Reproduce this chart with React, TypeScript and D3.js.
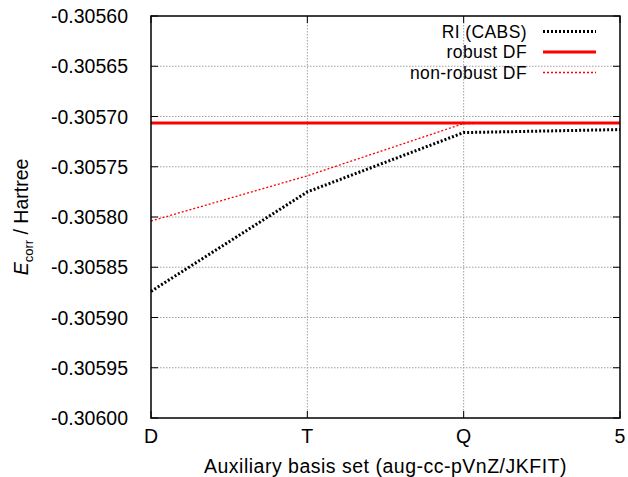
import React from 'react';
import * as d3 from 'd3';

// basis set cardinal numbers on x
const basisLabels = ['D', 'T', 'Q', '5'];
const yTicks = [-0.3056, -0.30565, -0.3057, -0.30575, -0.3058, -0.30585, -0.3059, -0.30595, -0.306];

const riCabs = [-0.305874, -0.305775, -0.305716, -0.305713];
const robustDF = [-0.3057065, -0.3057065, -0.3057065, -0.3057065];
const nonRobustDF = [-0.305804, -0.305759, -0.305707, -0.305706];

const W = 628;
const H = 477;
const margin = { left: 151, right: 8, top: 16, bottom: 59 };

const App = () => {
    const x = d3.scalePoint<string>()
        .domain(basisLabels)
        .range([margin.left, W - margin.right]);
    const y = d3.scaleLinear()
        .domain([-0.306, -0.3056])
        .range([H - margin.bottom, margin.top]);

    const line = d3.line<number>()
        .x((d, i) => x(basisLabels[i]) as number)
        .y(d => y(d));

    const x0 = margin.left;
    const x1 = W - margin.right;
    const y0 = margin.top;
    const y1 = H - margin.bottom;
    const font = 'Liberation Sans, Arial, sans-serif';
    const fs = 19.5;

    const series = [
        { name: 'RI (CABS)', data: riCabs, color: '#000', width: 3, dash: '2,2' },
        { name: 'robust DF', data: robustDF, color: '#f00', width: 3, dash: null },
        { name: 'non-robust DF', data: nonRobustDF, color: '#f00', width: 1.3, dash: '2,2' },
    ];

    return (
        <svg width={W} height={H} style={{ position: 'absolute', left: 0, top: 0, background: '#fff' }}
            fontFamily={font}>
            {/* grid */}
            {yTicks.slice(1, -1).map(t => (
                <line key={t} x1={x0} x2={x1} y1={y(t)} y2={y(t)} stroke="#a0a0a0" strokeWidth={1} strokeDasharray="1.5,1.5" />
            ))}
            {basisLabels.slice(1, -1).map(b => (
                <line key={b} x1={x(b)} x2={x(b)} y1={y0} y2={y1} stroke="#a0a0a0" strokeWidth={1} strokeDasharray="1.5,1.5" />
            ))}

            {/* ticks */}
            {yTicks.map(t => (
                <g key={'t' + t}>
                    <line x1={x0} x2={x0 + 7} y1={y(t)} y2={y(t)} stroke="#000" />
                    <line x1={x1 - 7} x2={x1} y1={y(t)} y2={y(t)} stroke="#000" />
                    <text x={128} y={y(t)} dy="0.36em" textAnchor="end" fontSize={fs}>{t.toFixed(5)}</text>
                </g>
            ))}
            {basisLabels.map(b => (
                <g key={'x' + b}>
                    <line x1={x(b)} x2={x(b)} y1={y1} y2={y1 - 7} stroke="#000" />
                    <line x1={x(b)} x2={x(b)} y1={y0} y2={y0 + 7} stroke="#000" />
                    <text x={x(b)} y={443} textAnchor="middle" fontSize={fs}>{b}</text>
                </g>
            ))}

            {/* series */}
            {series.map(s => (
                <path key={s.name} d={line(s.data) ?? ''} fill="none" stroke={s.color}
                    strokeWidth={s.width} strokeDasharray={s.dash ?? undefined} />
            ))}

            {/* legend */}
            {series.map((s, i) => (
                <g key={'l' + s.name} transform={`translate(0, ${31.5 + i * 20.5})`}>
                    <text x={527} y={0} dy="0.36em" textAnchor="end" fontSize={17.5} letterSpacing={0.4}>{s.name}</text>
                    <line x1={543} x2={596} y1={0} y2={0} stroke={s.color}
                        strokeWidth={s.width} strokeDasharray={s.dash ?? undefined} />
                </g>
            ))}

            {/* frame */}
            <rect x={x0} y={y0} width={x1 - x0} height={y1 - y0} fill="none" stroke="#000" strokeWidth={1.5} />

            {/* axis titles */}
            <text x={(x0 + x1) / 2} y={473} textAnchor="middle" fontSize={fs} letterSpacing={0.5}>Auxiliary basis set (aug-cc-pVnZ/JKFIT)</text>
            <text transform={`translate(28, ${(y0 + y1) / 2}) rotate(-90)`} textAnchor="middle" fontSize={fs}>
                <tspan fontStyle="italic">E</tspan>
                <tspan fontSize={13} dy={5}>corr</tspan>
                <tspan dy={-5}> / Hartree</tspan>
            </text>
        </svg>
    );
};

export default App;
